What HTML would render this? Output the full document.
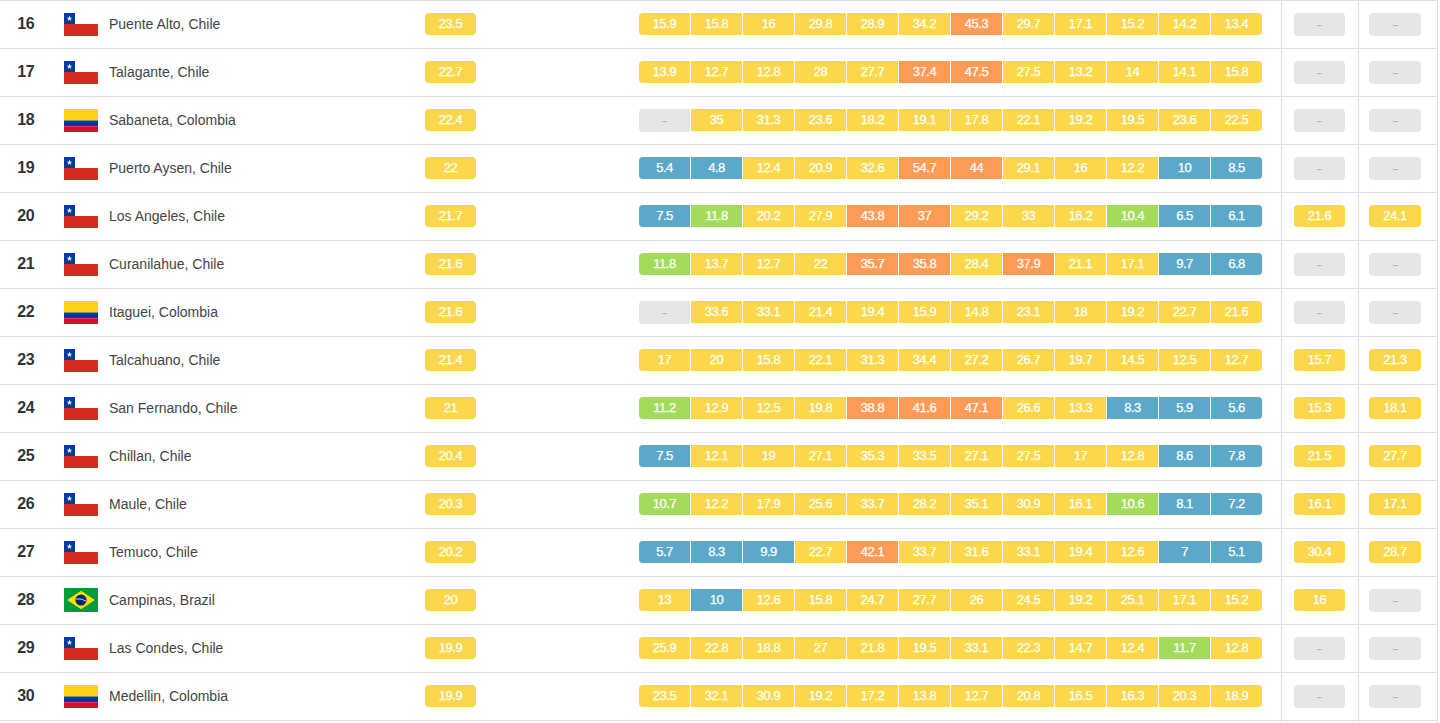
<!DOCTYPE html>
<html><head><meta charset="utf-8"><style>
*{box-sizing:border-box;margin:0;padding:0}
html,body{width:1440px;height:723px;overflow:hidden;background:#fff}
body{position:relative;font-family:"Liberation Sans",sans-serif}
.row{position:absolute;left:0;width:1438px;height:48px;border-top:1px solid #ddd}
.rank{position:absolute;left:0;width:52px;top:-1px;height:47px;line-height:47px;text-align:center;font-weight:bold;font-size:16px;color:#333;letter-spacing:-0.4px;text-indent:-0.4px}
.flag{position:absolute;left:64px;top:12px}
.flag.br{top:11px}
.name{position:absolute;left:109px;top:0;height:47px;line-height:47px;font-size:14px;color:#444}
.badge{position:absolute;top:12px;height:22px;line-height:22px;width:51px;text-align:center;font-size:13px;color:#fff;border-radius:4px;letter-spacing:-0.5px;-webkit-text-stroke:0.25px #fff}
.avg{left:425px}
.bar{position:absolute;left:639px;top:12px;height:23px;width:623px;display:flex}
.seg{position:relative;width:51px;height:22px;line-height:22px;text-align:center;font-size:13px;color:#fff;margin-right:1px;letter-spacing:-0.5px;-webkit-text-stroke:0.25px #fff}
.seg:last-child{margin-right:0;border-radius:0 4px 4px 0}
.seg:first-child{border-radius:4px 0 0 4px}
.y{background:#fbd74b}
.b{background:#5ca8c8}
.gr{background:#a3dc5b}
.o{background:#fd9b57}
.r{background:#fe6a69}
.g{background:#e6e6e6;color:transparent;height:23px}
.g::after{content:"";position:absolute;left:50%;margin-left:-2.5px;top:12px;width:5px;height:1px;background:#b4b4b4}
.vl{position:absolute;top:0;width:1px;height:723px;background:#ddd}
.y1{left:1294px}
.y2{left:1369px;width:52px}
</style></head><body>
<div class="row" style="top:0px"><div class="rank">16</div><svg class="flag" width="34" height="23" viewBox="0 0 34 23"><rect width="34" height="23" fill="#fff"/><rect y="11" width="34" height="12" fill="#d52b1e"/><rect width="11" height="11" fill="#0039a6"/><polygon fill="#fff" points="5.5,2.6 6.2,4.7 8.4,4.7 6.6,6 7.3,8.1 5.5,6.8 3.7,8.1 4.4,6 2.6,4.7 4.8,4.7"/></svg><div class="name">Puente Alto, Chile</div><div class="badge avg y">23.5</div><div class="bar"><div class="seg y">15.9</div><div class="seg y">15.8</div><div class="seg y">16</div><div class="seg y">29.8</div><div class="seg y">28.9</div><div class="seg y">34.2</div><div class="seg o">45.3</div><div class="seg y">29.7</div><div class="seg y">17.1</div><div class="seg y">15.2</div><div class="seg y">14.2</div><div class="seg y">13.4</div></div><div class="badge y1 g">-</div><div class="badge y2 g">-</div></div>
<div class="row" style="top:48px"><div class="rank">17</div><svg class="flag" width="34" height="23" viewBox="0 0 34 23"><rect width="34" height="23" fill="#fff"/><rect y="11" width="34" height="12" fill="#d52b1e"/><rect width="11" height="11" fill="#0039a6"/><polygon fill="#fff" points="5.5,2.6 6.2,4.7 8.4,4.7 6.6,6 7.3,8.1 5.5,6.8 3.7,8.1 4.4,6 2.6,4.7 4.8,4.7"/></svg><div class="name">Talagante, Chile</div><div class="badge avg y">22.7</div><div class="bar"><div class="seg y">13.9</div><div class="seg y">12.7</div><div class="seg y">12.8</div><div class="seg y">28</div><div class="seg y">27.7</div><div class="seg o">37.4</div><div class="seg o">47.5</div><div class="seg y">27.5</div><div class="seg y">13.2</div><div class="seg y">14</div><div class="seg y">14.1</div><div class="seg y">15.8</div></div><div class="badge y1 g">-</div><div class="badge y2 g">-</div></div>
<div class="row" style="top:96px"><div class="rank">18</div><svg class="flag" width="34" height="23" viewBox="0 0 34 23"><rect width="34" height="11.5" fill="#fcd116"/><rect y="11.5" width="34" height="5.75" fill="#003893"/><rect y="17.25" width="34" height="5.75" fill="#ce1126"/></svg><div class="name">Sabaneta, Colombia</div><div class="badge avg y">22.4</div><div class="bar"><div class="seg g">-</div><div class="seg y">35</div><div class="seg y">31.3</div><div class="seg y">23.6</div><div class="seg y">18.2</div><div class="seg y">19.1</div><div class="seg y">17.8</div><div class="seg y">22.1</div><div class="seg y">19.2</div><div class="seg y">19.5</div><div class="seg y">23.6</div><div class="seg y">22.5</div></div><div class="badge y1 g">-</div><div class="badge y2 g">-</div></div>
<div class="row" style="top:144px"><div class="rank">19</div><svg class="flag" width="34" height="23" viewBox="0 0 34 23"><rect width="34" height="23" fill="#fff"/><rect y="11" width="34" height="12" fill="#d52b1e"/><rect width="11" height="11" fill="#0039a6"/><polygon fill="#fff" points="5.5,2.6 6.2,4.7 8.4,4.7 6.6,6 7.3,8.1 5.5,6.8 3.7,8.1 4.4,6 2.6,4.7 4.8,4.7"/></svg><div class="name">Puerto Aysen, Chile</div><div class="badge avg y">22</div><div class="bar"><div class="seg b">5.4</div><div class="seg b">4.8</div><div class="seg y">12.4</div><div class="seg y">20.9</div><div class="seg y">32.6</div><div class="seg o">54.7</div><div class="seg o">44</div><div class="seg y">29.1</div><div class="seg y">16</div><div class="seg y">12.2</div><div class="seg b">10</div><div class="seg b">8.5</div></div><div class="badge y1 g">-</div><div class="badge y2 g">-</div></div>
<div class="row" style="top:192px"><div class="rank">20</div><svg class="flag" width="34" height="23" viewBox="0 0 34 23"><rect width="34" height="23" fill="#fff"/><rect y="11" width="34" height="12" fill="#d52b1e"/><rect width="11" height="11" fill="#0039a6"/><polygon fill="#fff" points="5.5,2.6 6.2,4.7 8.4,4.7 6.6,6 7.3,8.1 5.5,6.8 3.7,8.1 4.4,6 2.6,4.7 4.8,4.7"/></svg><div class="name">Los Angeles, Chile</div><div class="badge avg y">21.7</div><div class="bar"><div class="seg b">7.5</div><div class="seg gr">11.8</div><div class="seg y">20.2</div><div class="seg y">27.9</div><div class="seg o">43.8</div><div class="seg o">37</div><div class="seg y">29.2</div><div class="seg y">33</div><div class="seg y">16.2</div><div class="seg gr">10.4</div><div class="seg b">6.5</div><div class="seg b">6.1</div></div><div class="badge y1 y">21.6</div><div class="badge y2 y">24.1</div></div>
<div class="row" style="top:240px"><div class="rank">21</div><svg class="flag" width="34" height="23" viewBox="0 0 34 23"><rect width="34" height="23" fill="#fff"/><rect y="11" width="34" height="12" fill="#d52b1e"/><rect width="11" height="11" fill="#0039a6"/><polygon fill="#fff" points="5.5,2.6 6.2,4.7 8.4,4.7 6.6,6 7.3,8.1 5.5,6.8 3.7,8.1 4.4,6 2.6,4.7 4.8,4.7"/></svg><div class="name">Curanilahue, Chile</div><div class="badge avg y">21.6</div><div class="bar"><div class="seg gr">11.8</div><div class="seg y">13.7</div><div class="seg y">12.7</div><div class="seg y">22</div><div class="seg o">35.7</div><div class="seg o">35.8</div><div class="seg y">28.4</div><div class="seg o">37.9</div><div class="seg y">21.1</div><div class="seg y">17.1</div><div class="seg b">9.7</div><div class="seg b">6.8</div></div><div class="badge y1 g">-</div><div class="badge y2 g">-</div></div>
<div class="row" style="top:288px"><div class="rank">22</div><svg class="flag" width="34" height="23" viewBox="0 0 34 23"><rect width="34" height="11.5" fill="#fcd116"/><rect y="11.5" width="34" height="5.75" fill="#003893"/><rect y="17.25" width="34" height="5.75" fill="#ce1126"/></svg><div class="name">Itaguei, Colombia</div><div class="badge avg y">21.6</div><div class="bar"><div class="seg g">-</div><div class="seg y">33.6</div><div class="seg y">33.1</div><div class="seg y">21.4</div><div class="seg y">19.4</div><div class="seg y">15.9</div><div class="seg y">14.8</div><div class="seg y">23.1</div><div class="seg y">18</div><div class="seg y">19.2</div><div class="seg y">22.7</div><div class="seg y">21.6</div></div><div class="badge y1 g">-</div><div class="badge y2 g">-</div></div>
<div class="row" style="top:336px"><div class="rank">23</div><svg class="flag" width="34" height="23" viewBox="0 0 34 23"><rect width="34" height="23" fill="#fff"/><rect y="11" width="34" height="12" fill="#d52b1e"/><rect width="11" height="11" fill="#0039a6"/><polygon fill="#fff" points="5.5,2.6 6.2,4.7 8.4,4.7 6.6,6 7.3,8.1 5.5,6.8 3.7,8.1 4.4,6 2.6,4.7 4.8,4.7"/></svg><div class="name">Talcahuano, Chile</div><div class="badge avg y">21.4</div><div class="bar"><div class="seg y">17</div><div class="seg y">20</div><div class="seg y">15.8</div><div class="seg y">22.1</div><div class="seg y">31.3</div><div class="seg y">34.4</div><div class="seg y">27.2</div><div class="seg y">26.7</div><div class="seg y">19.7</div><div class="seg y">14.5</div><div class="seg y">12.5</div><div class="seg y">12.7</div></div><div class="badge y1 y">15.7</div><div class="badge y2 y">21.3</div></div>
<div class="row" style="top:384px"><div class="rank">24</div><svg class="flag" width="34" height="23" viewBox="0 0 34 23"><rect width="34" height="23" fill="#fff"/><rect y="11" width="34" height="12" fill="#d52b1e"/><rect width="11" height="11" fill="#0039a6"/><polygon fill="#fff" points="5.5,2.6 6.2,4.7 8.4,4.7 6.6,6 7.3,8.1 5.5,6.8 3.7,8.1 4.4,6 2.6,4.7 4.8,4.7"/></svg><div class="name">San Fernando, Chile</div><div class="badge avg y">21</div><div class="bar"><div class="seg gr">11.2</div><div class="seg y">12.9</div><div class="seg y">12.5</div><div class="seg y">19.8</div><div class="seg o">38.8</div><div class="seg o">41.6</div><div class="seg o">47.1</div><div class="seg y">26.6</div><div class="seg y">13.3</div><div class="seg b">8.3</div><div class="seg b">5.9</div><div class="seg b">5.6</div></div><div class="badge y1 y">15.3</div><div class="badge y2 y">18.1</div></div>
<div class="row" style="top:432px"><div class="rank">25</div><svg class="flag" width="34" height="23" viewBox="0 0 34 23"><rect width="34" height="23" fill="#fff"/><rect y="11" width="34" height="12" fill="#d52b1e"/><rect width="11" height="11" fill="#0039a6"/><polygon fill="#fff" points="5.5,2.6 6.2,4.7 8.4,4.7 6.6,6 7.3,8.1 5.5,6.8 3.7,8.1 4.4,6 2.6,4.7 4.8,4.7"/></svg><div class="name">Chillan, Chile</div><div class="badge avg y">20.4</div><div class="bar"><div class="seg b">7.5</div><div class="seg y">12.1</div><div class="seg y">19</div><div class="seg y">27.1</div><div class="seg y">35.3</div><div class="seg y">33.5</div><div class="seg y">27.1</div><div class="seg y">27.5</div><div class="seg y">17</div><div class="seg y">12.8</div><div class="seg b">8.6</div><div class="seg b">7.8</div></div><div class="badge y1 y">21.5</div><div class="badge y2 y">27.7</div></div>
<div class="row" style="top:480px"><div class="rank">26</div><svg class="flag" width="34" height="23" viewBox="0 0 34 23"><rect width="34" height="23" fill="#fff"/><rect y="11" width="34" height="12" fill="#d52b1e"/><rect width="11" height="11" fill="#0039a6"/><polygon fill="#fff" points="5.5,2.6 6.2,4.7 8.4,4.7 6.6,6 7.3,8.1 5.5,6.8 3.7,8.1 4.4,6 2.6,4.7 4.8,4.7"/></svg><div class="name">Maule, Chile</div><div class="badge avg y">20.3</div><div class="bar"><div class="seg gr">10.7</div><div class="seg y">12.2</div><div class="seg y">17.9</div><div class="seg y">25.6</div><div class="seg y">33.7</div><div class="seg y">28.2</div><div class="seg y">35.1</div><div class="seg y">30.9</div><div class="seg y">16.1</div><div class="seg gr">10.6</div><div class="seg b">8.1</div><div class="seg b">7.2</div></div><div class="badge y1 y">16.1</div><div class="badge y2 y">17.1</div></div>
<div class="row" style="top:528px"><div class="rank">27</div><svg class="flag" width="34" height="23" viewBox="0 0 34 23"><rect width="34" height="23" fill="#fff"/><rect y="11" width="34" height="12" fill="#d52b1e"/><rect width="11" height="11" fill="#0039a6"/><polygon fill="#fff" points="5.5,2.6 6.2,4.7 8.4,4.7 6.6,6 7.3,8.1 5.5,6.8 3.7,8.1 4.4,6 2.6,4.7 4.8,4.7"/></svg><div class="name">Temuco, Chile</div><div class="badge avg y">20.2</div><div class="bar"><div class="seg b">5.7</div><div class="seg b">8.3</div><div class="seg b">9.9</div><div class="seg y">22.7</div><div class="seg o">42.1</div><div class="seg y">33.7</div><div class="seg y">31.6</div><div class="seg y">33.1</div><div class="seg y">19.4</div><div class="seg y">12.6</div><div class="seg b">7</div><div class="seg b">5.1</div></div><div class="badge y1 y">30.4</div><div class="badge y2 y">28.7</div></div>
<div class="row" style="top:576px"><div class="rank">28</div><svg class="flag br" width="34" height="24" viewBox="0 0 34 24"><rect width="34" height="24" fill="#009b3a"/><polygon fill="#fedf00" points="17,2.8 30.8,12 17,21.2 3.2,12"/><circle cx="17" cy="12" r="5.6" fill="#002776"/><path d="M12 11 Q17 10 22 13" stroke="#fff" stroke-width="0.8" fill="none"/></svg><div class="name">Campinas, Brazil</div><div class="badge avg y">20</div><div class="bar"><div class="seg y">13</div><div class="seg b">10</div><div class="seg y">12.6</div><div class="seg y">15.8</div><div class="seg y">24.7</div><div class="seg y">27.7</div><div class="seg y">26</div><div class="seg y">24.5</div><div class="seg y">19.2</div><div class="seg y">25.1</div><div class="seg y">17.1</div><div class="seg y">15.2</div></div><div class="badge y1 y">16</div><div class="badge y2 g">-</div></div>
<div class="row" style="top:624px"><div class="rank">29</div><svg class="flag" width="34" height="23" viewBox="0 0 34 23"><rect width="34" height="23" fill="#fff"/><rect y="11" width="34" height="12" fill="#d52b1e"/><rect width="11" height="11" fill="#0039a6"/><polygon fill="#fff" points="5.5,2.6 6.2,4.7 8.4,4.7 6.6,6 7.3,8.1 5.5,6.8 3.7,8.1 4.4,6 2.6,4.7 4.8,4.7"/></svg><div class="name">Las Condes, Chile</div><div class="badge avg y">19.9</div><div class="bar"><div class="seg y">25.9</div><div class="seg y">22.8</div><div class="seg y">18.8</div><div class="seg y">27</div><div class="seg y">21.8</div><div class="seg y">19.5</div><div class="seg y">33.1</div><div class="seg y">22.3</div><div class="seg y">14.7</div><div class="seg y">12.4</div><div class="seg gr">11.7</div><div class="seg y">12.8</div></div><div class="badge y1 g">-</div><div class="badge y2 g">-</div></div>
<div class="row" style="top:672px"><div class="rank">30</div><svg class="flag" width="34" height="23" viewBox="0 0 34 23"><rect width="34" height="11.5" fill="#fcd116"/><rect y="11.5" width="34" height="5.75" fill="#003893"/><rect y="17.25" width="34" height="5.75" fill="#ce1126"/></svg><div class="name">Medellin, Colombia</div><div class="badge avg y">19.9</div><div class="bar"><div class="seg y">23.5</div><div class="seg y">32.1</div><div class="seg y">30.9</div><div class="seg y">19.2</div><div class="seg y">17.2</div><div class="seg y">13.8</div><div class="seg y">12.7</div><div class="seg y">20.8</div><div class="seg y">16.5</div><div class="seg y">16.3</div><div class="seg y">20.3</div><div class="seg y">18.9</div></div><div class="badge y1 g">-</div><div class="badge y2 g">-</div></div>
<div class="row" style="top:720px"></div><div class="vl" style="left:1281px"></div><div class="vl" style="left:1358px"></div><div class="vl" style="left:1437px"></div></body></html>
